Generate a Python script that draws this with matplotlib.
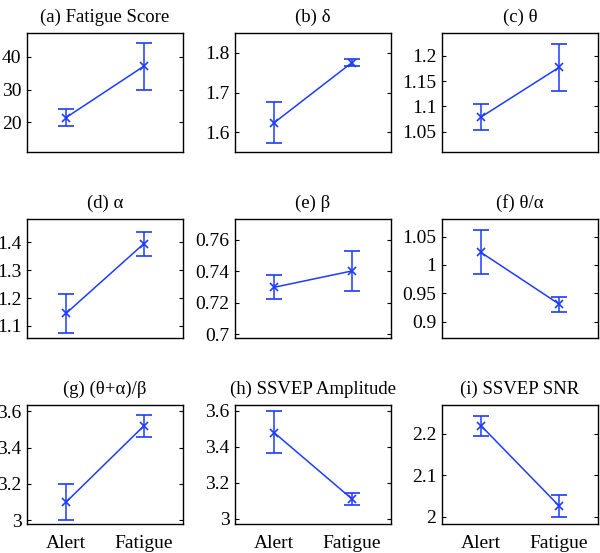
import matplotlib
matplotlib.use('Agg')
import matplotlib.pyplot as plt

conditions = ['Alert', 'Fatigue']

titles = ['(a) Fatigue Score', '(b) δ', '(c) θ',
          '(d) α', '(e) β', '(f) θ/α',
          '(g) (θ+α)/β', '(h) SSVEP Amplitude', '(i) SSVEP SNR']

# means and error bar half-widths (lower, upper) for Alert, Fatigue
means = [
    [21.5, 37.2],
    [1.624, 1.775],
    [1.079, 1.177],
    [1.145, 1.395],
    [0.7298, 0.7402],
    [1.022, 0.931],
    [3.10, 3.52],
    [3.48, 3.11],
    [2.22, 2.026],
]
err_low = [
    [2.6, 7.2],
    [0.051, 0.008],
    [0.025, 0.046],
    [0.070, 0.045],
    [0.0076, 0.0125],
    [0.038, 0.014],
    [0.10, 0.062],
    [0.116, 0.034],
    [0.024, 0.027],
]
err_high = [
    [2.6, 7.2],
    [0.051, 0.008],
    [0.025, 0.046],
    [0.068, 0.043],
    [0.0076, 0.0125],
    [0.039, 0.013],
    [0.10, 0.06],
    [0.122, 0.032],
    [0.024, 0.027],
]

y_limits = [
    (11, 47.3),
    (1.551, 1.849),
    (1.01, 1.245),
    (1.057, 1.483),
    (0.6976, 0.7732),
    (0.871, 1.081),
    (2.98, 3.634),
    (2.971, 3.633),
    (1.982, 2.27),
]
y_ticks = [
    [20, 30, 40],
    [1.6, 1.7, 1.8],
    [1.05, 1.1, 1.15, 1.2],
    [1.1, 1.2, 1.3, 1.4],
    [0.7, 0.72, 0.74, 0.76],
    [0.9, 0.95, 1.0, 1.05],
    [3.0, 3.2, 3.4, 3.6],
    [3.0, 3.2, 3.4, 3.6],
    [2.0, 2.1, 2.2],
]
y_ticklabels = [
    ['20', '30', '40'],
    ['1.6', '1.7', '1.8'],
    ['1.05', '1.1', '1.15', '1.2'],
    ['1.1', '1.2', '1.3', '1.4'],
    ['0.7', '0.72', '0.74', '0.76'],
    ['0.9', '0.95', '1', '1.05'],
    ['3', '3.2', '3.4', '3.6'],
    ['3', '3.2', '3.4', '3.6'],
    ['2', '2.1', '2.2'],
]

plt.rcParams['font.family'] = ['Liberation Serif', 'DejaVu Serif']

W, H = 600, 553
fig = plt.figure(figsize=(W / 100, H / 100), dpi=100)

col_left = [27, 235, 442]
row_top = [33, 219, 405]
row_bottom = [152, 338, 524]
ax_w = 156

color = '#1e3cff'
x = [1, 2]

for i in range(9):
    r, c = divmod(i, 3)
    left = col_left[c] / W
    bottom = 1 - row_bottom[r] / H
    height = (row_bottom[r] - row_top[r]) / H
    ax = fig.add_axes([left, bottom, ax_w / W, height])
    ax.errorbar(x, means[i], yerr=[err_low[i], err_high[i]], color=color,
                marker='x', markersize=6, markeredgewidth=1.2, linewidth=1.1,
                capsize=5.5, capthick=1.1, elinewidth=1.1)
    ax.set_xlim(0.5, 2.5)
    ax.set_ylim(*y_limits[i])
    ax.set_yticks(y_ticks[i])
    ax.set_yticklabels(y_ticklabels[i])
    ax.set_xticks(x)
    if r == 2:
        ax.set_xticklabels(conditions)
    else:
        ax.set_xticklabels([])
    ax.tick_params(axis='x', length=0, labelsize=14, pad=8)
    ax.tick_params(axis='y', direction='in', length=3, right=True,
                   labelsize=14, pad=4)
    for s in ax.spines.values():
        s.set_linewidth(1.0)
    ax.set_title(titles[i], fontsize=13.5, pad=8)

fig.savefig('out.png', dpi=100)
